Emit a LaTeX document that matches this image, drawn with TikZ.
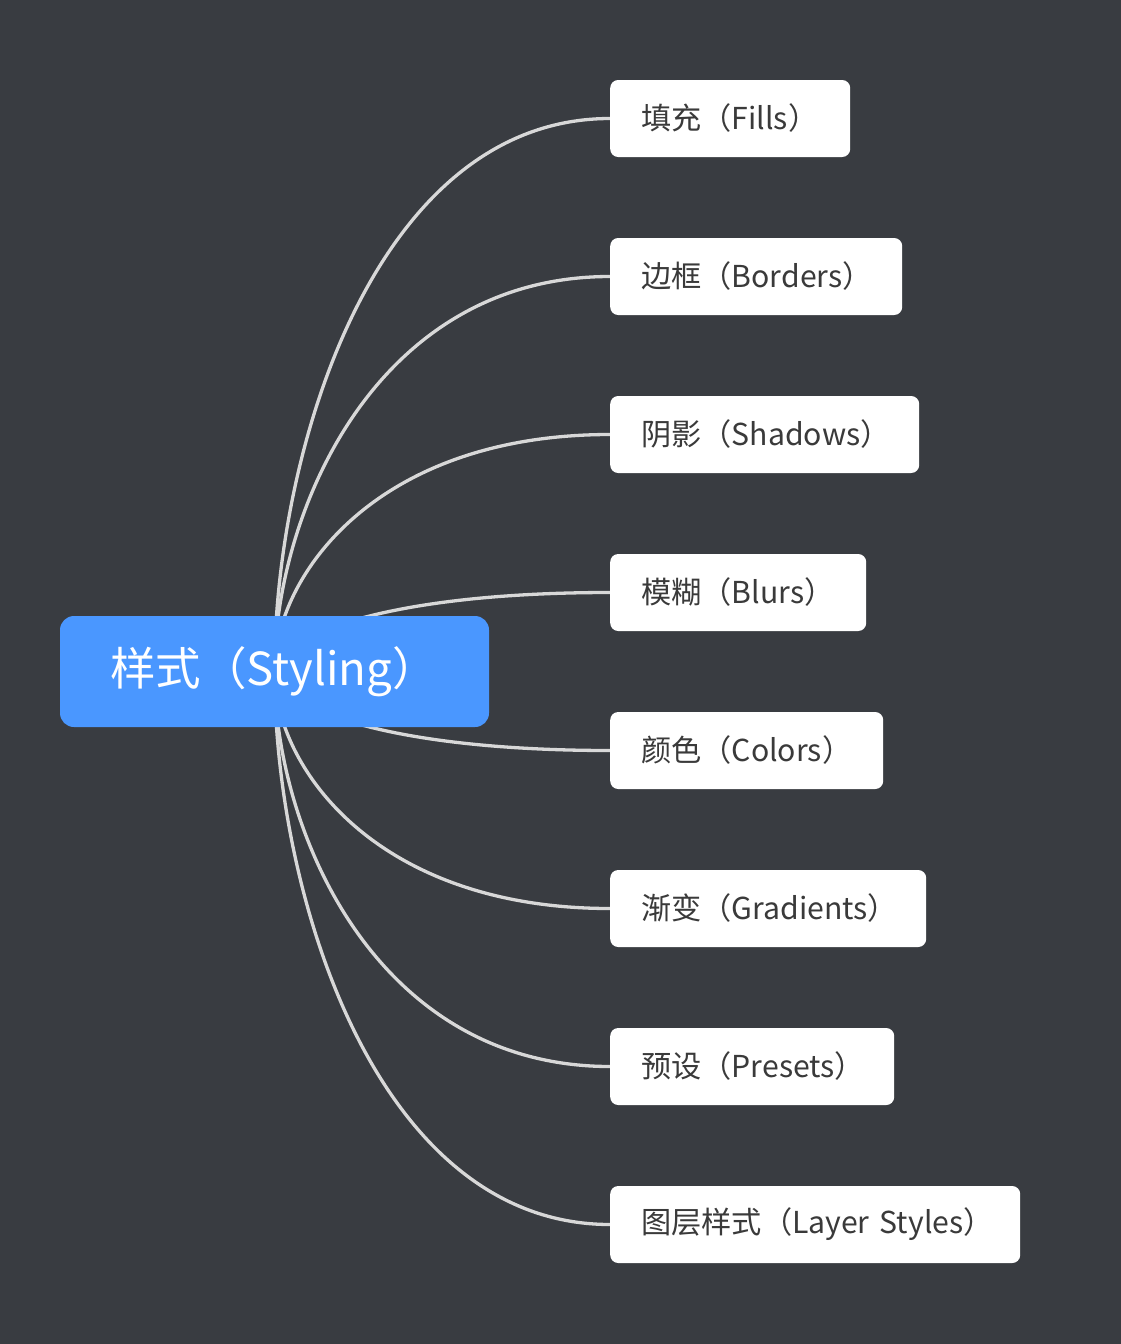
\documentclass[tikz,border=0pt]{standalone}
\usepackage{fontspec}
\setmainfont{Noto Sans CJK SC}
\usetikzlibrary{calc,backgrounds}
\definecolor{bgc}{HTML}{393C41}
\definecolor{bluec}{HTML}{4A97FF}
\definecolor{linec}{HTML}{D8D8D8}
\definecolor{txtc}{HTML}{3A3A3A}
\newcommand{\leaftxt}[1]{\raisebox{3.5pt}{\mbox{#1}}}
\begin{document}
\begin{tikzpicture}[x=1pt,y=-1pt,
  rootbox/.style={rectangle,rounded corners=14pt,fill=bluec,text=white,
    minimum width=429pt,minimum height=111pt,inner xsep=0pt,
    font=\fontsize{45}{54}\selectfont},
  leafbox/.style={rectangle,rounded corners=8pt,fill=white,text=txtc,anchor=west,
    minimum height=77pt,inner xsep=31pt,inner ysep=0pt,align=left,
    font=\fontsize{30.2}{37}\selectfont},
  link/.style={draw=linec,line width=3.3pt}]
\useasboundingbox (0,0) rectangle (1121,1344);
\node[rootbox] (c) at (274.5,671.5) {};
\node[anchor=west,text=white,inner sep=0pt,font=\fontsize{45.5}{54}\selectfont] (ct) at (110,672) {样式（Styling）};
\node[leafbox,text width=178pt] (k1) at (610,118.5) {\leaftxt{填充（Fills）}};
\node[leafbox,text width=230pt] (k2) at (610,276.5) {\leaftxt{边框（Borders）}};
\node[leafbox,text width=247pt] (k3) at (610,434.5) {\leaftxt{阴影（Shadows）}};
\node[leafbox,text width=194pt] (k4) at (610,592.5) {\leaftxt{模糊（Blurs）}};
\node[leafbox,text width=211pt] (k5) at (610,750.5) {\leaftxt{颜色（Colors）}};
\node[leafbox,text width=254pt] (k6) at (610,908.5) {\leaftxt{渐变（Gradients）}};
\node[leafbox,text width=222pt] (k7) at (610,1066.5) {\leaftxt{预设（Presets）}};
\node[leafbox,text width=348pt] (k8) at (610,1224.5) {\leaftxt{图层样式（Layer Styles）}};
\begin{scope}[on background layer]
\fill[bgc] (0,0) rectangle (1121,1344);
\foreach \k in {k1,k2,k3,k4,k5,k6,k7,k8}{
  \draw[link] (c.center) .. controls ($(c.center)!0.4!(c.center|-\k.west)$)
     and ($(\k.west)!0.7!(c.center|-\k.west)$) .. (\k.west);
}
\end{scope}
\end{tikzpicture}
\end{document}
